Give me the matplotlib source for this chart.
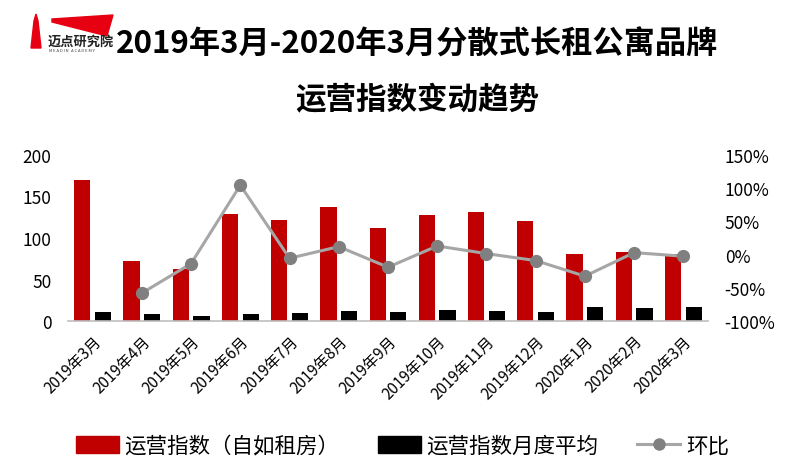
import matplotlib
matplotlib.use("Agg")
import matplotlib.pyplot as plt
from matplotlib.patches import Polygon
from matplotlib.lines import Line2D
from matplotlib.patches import Patch
import numpy as np

plt.rcParams['font.family'] = ['Noto Sans CJK SC', 'DejaVu Sans']

# 数据
months = ["2019年3月", "2019年4月", "2019年5月", "2019年6月", "2019年7月",
          "2019年8月", "2019年9月", "2019年10月", "2019年11月", "2019年12月",
          "2020年1月", "2020年2月", "2020年3月"]
ziroom_index = [170, 72, 63, 128.5, 122, 137, 111.5, 127.5, 131, 120, 80.5, 83, 81]
monthly_avg = [10.4, 8.4, 6.0, 8.4, 9.7, 12.0, 11.2, 12.8, 12.0, 11.2, 16.5, 15.3, 16.9]
mom_change = [None, -58.0, -13.5, 104.5, -5.5, 12.0, -19.0, 13.0, 1.5, -9.0, -32.5, 3.0, -2.5]

RED = "#C00000"
BLACK = "#000000"
LINE_GREY = "#A6A6A6"
MARK_GREY = "#808080"

W, H = 800, 477
fig = plt.figure(figsize=(W / 100, H / 100), dpi=100)


def fx(px):
    return px / W


def fy(py):
    return 1 - py / H


ax = fig.add_axes([fx(68), fy(322), fx(708) - fx(68), fy(156) - fy(322)])
ax2 = ax.twinx()

x = np.arange(len(months))
bw = 0.33
off = 0.21
ax.bar(x - off, ziroom_index, bw, color=RED, zorder=2)
ax.bar(x + off, monthly_avg, bw, color=BLACK, zorder=2)

xs = [i for i, v in enumerate(mom_change) if v is not None]
ys = [v for v in mom_change if v is not None]
ax2.plot(xs, ys, color=LINE_GREY, linewidth=2.2, marker="o", markersize=8.5,
         markerfacecolor=MARK_GREY, markeredgecolor=MARK_GREY, zorder=3)

ax.set_xlim(-0.5, len(months) - 0.5)
ax.set_ylim(0, 200)
ax.set_yticks([0, 50, 100, 150, 200])
ax2.set_ylim(-100, 150)
ax2.set_yticks([-100, -50, 0, 50, 100, 150])
ax2.set_yticklabels([f"{v}%" for v in [-100, -50, 0, 50, 100, 150]])

for a in (ax, ax2):
    for s in a.spines.values():
        s.set_visible(False)
ax.spines["bottom"].set_visible(True)
ax.spines["bottom"].set_color("#BFBFBF")
ax.spines["bottom"].set_linewidth(1.2)

ax.tick_params(axis="y", length=0, pad=12, labelsize=12.5)
ax2.tick_params(axis="y", length=0, pad=12, labelsize=12.5)
ax.set_xticks(x)
ax.set_xticklabels(months, rotation=45, ha="right", rotation_mode="anchor", fontsize=11)
ax.tick_params(axis="x", length=0, pad=8)

# 标题
fig.text(0.521, fy(45), "2019年3月-2020年3月分散式长租公寓品牌", ha="center", va="center",
         fontsize=22.5, fontweight="bold")
fig.text(0.521, fy(100), "运营指数变动趋势", ha="center", va="center",
         fontsize=22, fontweight="bold")

# 图例
handles = [Patch(color=RED), Patch(color=BLACK),
           Line2D([], [], color=LINE_GREY, linewidth=2.2, marker="o", markersize=8,
                  markerfacecolor=MARK_GREY, markeredgecolor=MARK_GREY)]
labels = ["运营指数（自如租房）", "运营指数月度平均", "环比"]
fig.legend(handles, labels, loc="center", bbox_to_anchor=(0.503, fy(447)), ncol=3,
           frameon=False, fontsize=15.5, handlelength=2.0, handleheight=0.8,
           columnspacing=1.8, handletextpad=0.25)

# 标志
fig.patches.append(Polygon([(fx(52), fy(20)), (fx(113), fy(16)), (fx(107), fy(37)),
                            (fx(52), fy(23))], closed=True, color="#E60012",
                           transform=fig.transFigure))
fig.patches.append(Polygon([(fx(31), fy(49)), (fx(34), fy(22)), (fx(36), fy(15)),
                            (fx(38), fy(22)), (fx(41), fy(49))], closed=True,
                           color="#E60012", transform=fig.transFigure))
fig.text(fx(48), fy(42), "迈点研究院", ha="left", va="center", fontsize=9.5,
         fontweight="bold", color="#222222")
fig.text(fx(49), fy(51), "M E A D I N   A C A D E M Y", ha="left", va="center",
         fontsize=3, color="#444444")

fig.savefig("out.png", dpi=100)
